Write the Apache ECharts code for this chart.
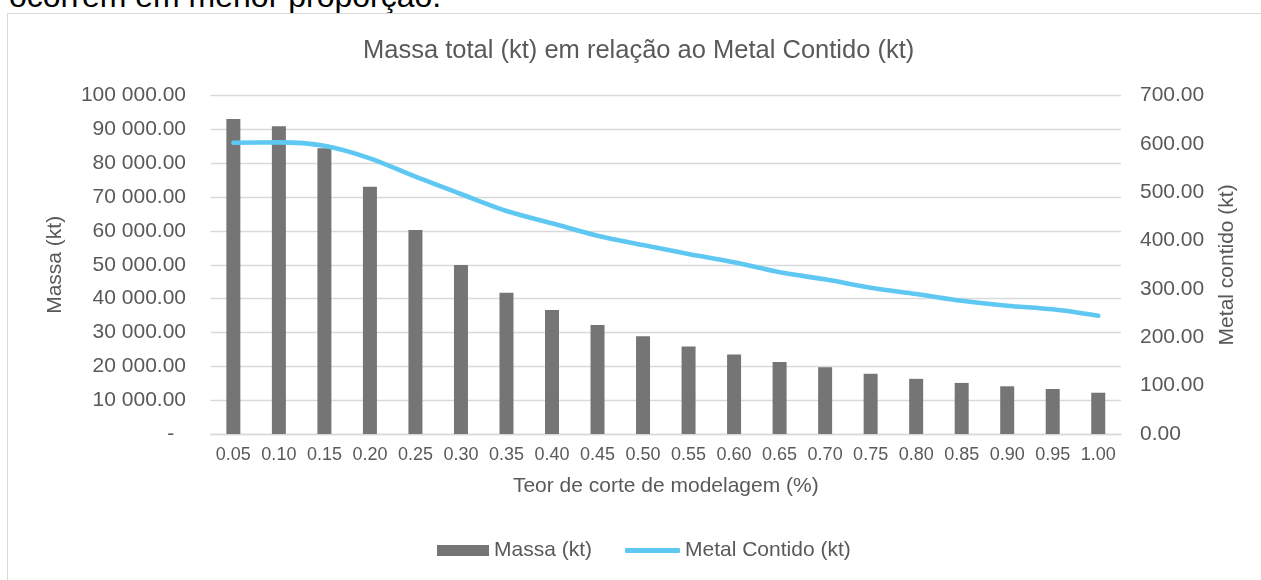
<!DOCTYPE html>
<html>
<head>
<meta charset="utf-8">
<script src="https://cdn.jsdelivr.net/npm/echarts@6/dist/echarts.min.js"></script>
<style>
  html, body { margin: 0; padding: 0; background: #fff; width: 1261px; height: 580px; overflow: hidden; }
  #top { position: absolute; left: 9px; top: -20px; font-family: 'Liberation Sans', Arial, sans-serif; font-size: 32px; line-height: 32px; color: #000; white-space: nowrap; }
  #frame { position: absolute; left: 7px; top: 13px; width: 1300px; height: 620px; border: 1px solid #d9d9d9; box-sizing: border-box; }
  #chart { position: absolute; left: 0; top: 0; width: 1261px; height: 580px; }
</style>
</head>
<body>
<div id="top">ocorrem em menor proporção.</div>
<div id="frame"></div>
<div id="chart"></div>
<script>
const categories = ['0.05','0.10','0.15','0.20','0.25','0.30','0.35','0.40','0.45','0.50',
                    '0.55','0.60','0.65','0.70','0.75','0.80','0.85','0.90','0.95','1.00'];
const massa = [93100, 91000, 84450, 73100, 60300, 49950, 41770, 36650, 32200, 28900,
               25900, 23500, 21300, 19700, 17800, 16300, 15100, 14100, 13300, 12200];
const metalContido = [602.7, 603.5, 596.5, 570.4, 532.4, 496.6, 461.4, 436.0, 410.3, 391.0,
                      372.4, 355.3, 334.6, 320.0, 302.7, 289.7, 275.8, 265.5, 258.0, 244.7];
const titleText = 'Massa total (kt) em relação ao Metal Contido (kt)';
const xName = 'Teor de corte de modelagem (%)';
const yLeftName = 'Massa (kt)';
const yRightName = 'Metal contido (kt)';
const seriesNames = ['Massa (kt)', 'Metal Contido (kt)'];

const FONT = "'Liberation Sans', Arial, sans-serif";
const TXT = '#595959';

function fmtLeft(v) {
  if (v === 0) return '-  ';
  const s = v.toFixed(2);
  const [ip, dp] = s.split('.');
  return ip.replace(/\B(?=(\d{3})+(?!\d))/g, ' ') + '.' + dp;
}

const chart = echarts.init(document.getElementById('chart'), null, { renderer: 'canvas' });
chart.setOption({
  animation: false,
  textStyle: { fontFamily: FONT },
  title: {
    text: titleText,
    left: 358,
    top: 33,
    textStyle: { fontFamily: FONT, fontSize: 25.5, fontWeight: 'normal', color: TXT }
  },
  legend: [
    {
      data: [seriesNames[0]],
      left: 432, top: 535,
      itemWidth: 52, itemHeight: 11, icon: 'rect',
      textStyle: { fontFamily: FONT, fontSize: 21, color: TXT }
    },
    {
      data: [seriesNames[1]],
      left: 620, top: 535,
      itemWidth: 55, itemHeight: 5, icon: 'roundRect',
      textStyle: { fontFamily: FONT, fontSize: 21, color: TXT }
    }
  ],
  grid: { left: 210.6, right: 140, top: 95.7, bottom: 146, containLabel: false },
  xAxis: {
    type: 'category',
    data: categories,
    name: xName,
    nameLocation: 'middle',
    nameGap: 42,
    nameTextStyle: { fontFamily: FONT, fontSize: 21, color: TXT },
    axisLine: { show: true, lineStyle: { color: '#d9d9d9', width: 1.3 } },
    axisTick: { show: false },
    axisLabel: { fontFamily: FONT, fontSize: 18, color: TXT, margin: 12, interval: 0 }
  },
  yAxis: [
    {
      type: 'value',
      min: 0, max: 100000, interval: 10000,
      name: yLeftName,
      nameLocation: 'middle',
      nameGap: 145,
      nameTextStyle: { fontFamily: FONT, fontSize: 21, color: TXT },
      axisLine: { show: false },
      axisTick: { show: false },
      splitLine: { show: true, lineStyle: { color: '#d9d9d9', width: 1.3 } },
      axisLabel: { fontFamily: FONT, fontSize: 21, color: TXT, margin: 24.6, formatter: fmtLeft }
    },
    {
      type: 'value',
      min: 0, max: 700, interval: 100,
      position: 'right',
      name: yRightName,
      nameLocation: 'middle',
      nameGap: 96,
      nameTextStyle: { fontFamily: FONT, fontSize: 21, color: TXT },
      axisLine: { show: false },
      axisTick: { show: false },
      splitLine: { show: false },
      axisLabel: { fontFamily: FONT, fontSize: 21, color: TXT, margin: 19, formatter: v => v.toFixed(2) }
    }
  ],
  series: [
    {
      name: seriesNames[0],
      type: 'bar',
      yAxisIndex: 0,
      data: massa,
      barWidth: 14,
      itemStyle: { color: '#757575' }
    },
    {
      name: seriesNames[1],
      type: 'line',
      yAxisIndex: 1,
      data: metalContido,
      smooth: 0.3,
      symbol: 'none',
      showSymbol: false,
      lineStyle: { color: '#5ec8f2', width: 4.6, cap: 'round', join: 'round' },
      itemStyle: { color: '#5ec8f2' }
    }
  ]
});
</script>
</body>
</html>
